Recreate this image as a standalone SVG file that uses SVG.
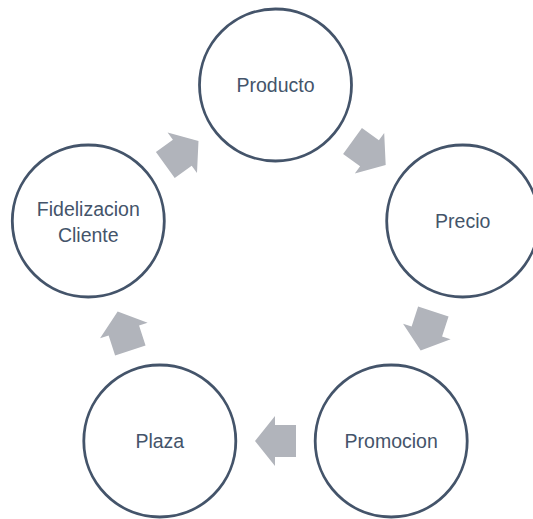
<svg xmlns="http://www.w3.org/2000/svg" width="533" height="519" viewBox="0 0 533 519">
  <defs>
    <style>
      .node circle { fill: #ffffff; stroke: #44546a; stroke-width: 2.8; }
      .node text { font-family: "Liberation Sans", Arial, sans-serif; font-size: 19.5px; fill: #44546a; text-anchor: middle; }
      .arrow { fill: #b1b4bb; }
    </style>
    <!-- block arrow pointing along +x, centred on the origin -->
    <polygon id="blockArrow" class="arrow" points="-20.5,-16 0.5,-16 0.5,-25 20.5,0 0.5,25 0.5,16 -20.5,16"/>
  </defs>

  <rect width="533" height="519" fill="#ffffff"/>

  <g id="connectors">
    <use href="#blockArrow" transform="translate(369.1 153) rotate(36)"/>
    <use href="#blockArrow" transform="translate(427 331) rotate(108)"/>
    <use href="#blockArrow" transform="translate(275.5 441) rotate(180)"/>
    <use href="#blockArrow" transform="translate(124 331) rotate(252)"/>
    <use href="#blockArrow" transform="translate(181.9 153) rotate(324)"/>
  </g>

  <g id="producto" class="node">
    <circle cx="275.5" cy="85" r="76"/>
    <text x="275.5" y="92">Producto</text>
  </g>

  <g id="precio" class="node">
    <circle cx="462.7" cy="221" r="76"/>
    <text x="462.7" y="228">Precio</text>
  </g>

  <g id="promocion" class="node">
    <circle cx="391.2" cy="441" r="76"/>
    <text x="391.2" y="448">Promocion</text>
  </g>

  <g id="plaza" class="node">
    <circle cx="159.8" cy="441" r="76"/>
    <text x="159.8" y="448">Plaza</text>
  </g>

  <g id="fidelizacion" class="node">
    <circle cx="88.3" cy="221" r="76"/>
    <text x="88.3" y="216">Fidelizacion</text>
    <text x="88.3" y="242">Cliente</text>
  </g>
</svg>
